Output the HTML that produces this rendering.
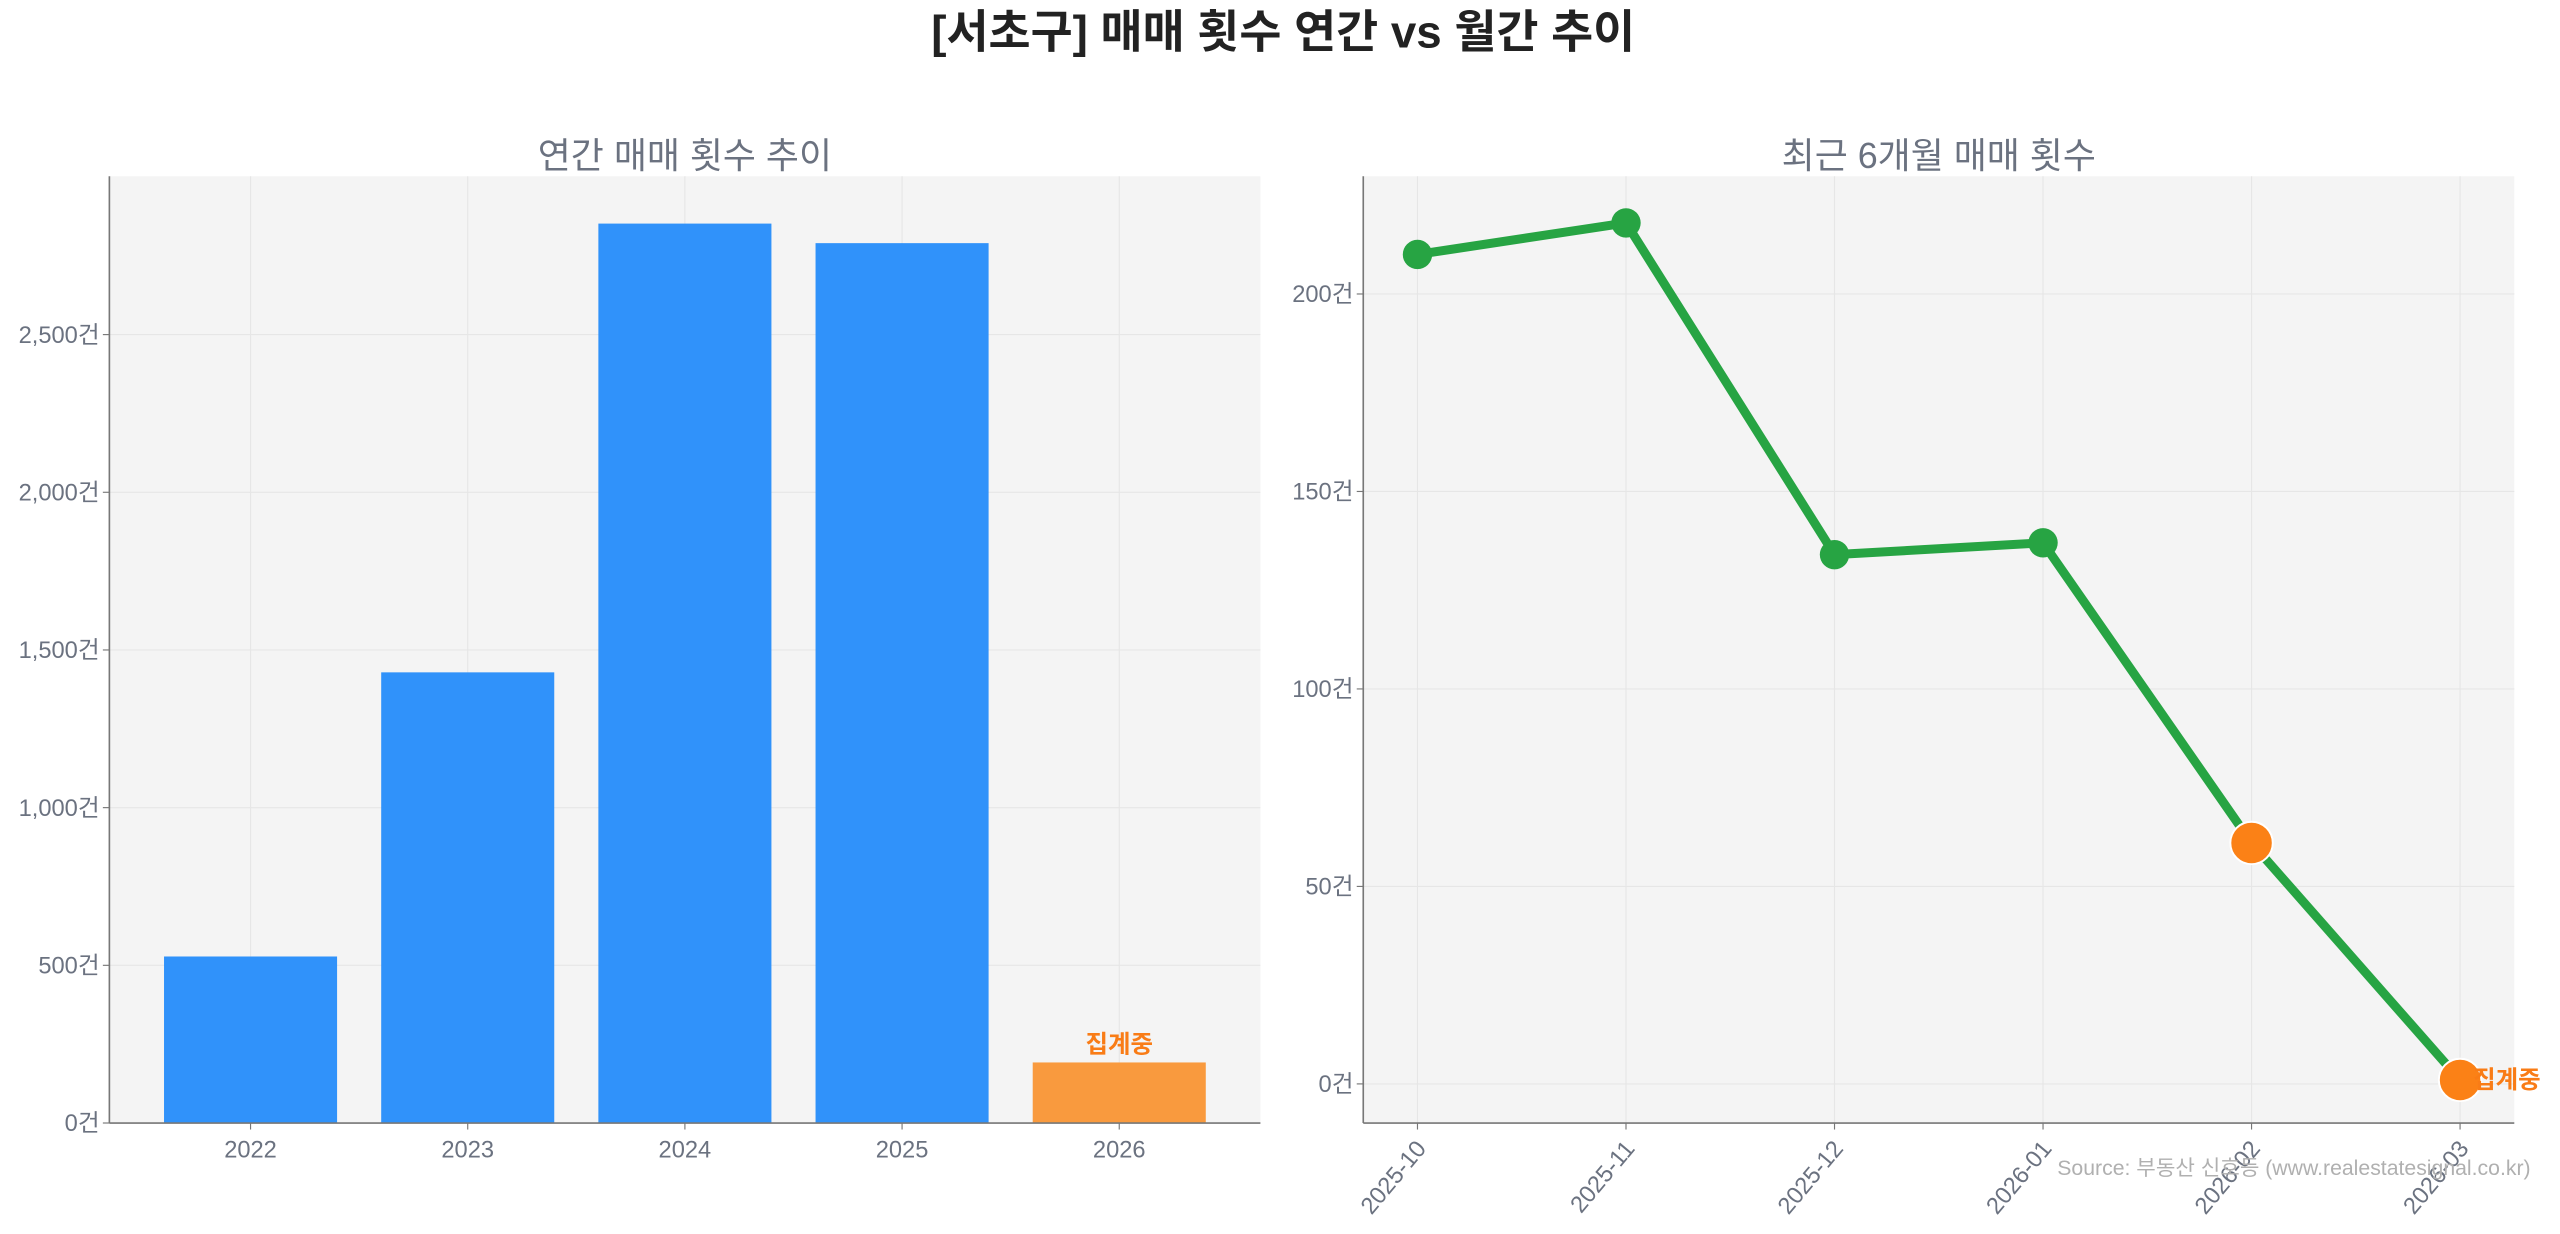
<!DOCTYPE html>
<html><head><meta charset="utf-8"><style>
html,body{margin:0;padding:0;background:#fff;overflow:hidden;font-family:"Liberation Sans","Noto Sans CJK KR",sans-serif}
#chart{display:block;width:100vw;height:100vh}
svg text{font-family:"Liberation Sans","Noto Sans CJK KR",sans-serif}
</style></head><body>
<svg id="chart" viewBox="0 0 1568 756" preserveAspectRatio="none" xmlns="http://www.w3.org/2000/svg">
<text x="786" y="29" text-anchor="middle" font-size="28" font-weight="bold" fill="#222">[서초구] 매매 횟수 연간 vs 월간 추이</text>
<g id="left"></g>
<g id="right"></g>
<text x="1550" y="720" text-anchor="end" font-size="13" fill="#b0b0b0">Source: 부동산 신호등 (www.realestatesignal.co.kr)</text>
</svg>
<script>
const years=["2022","2023","2024","2025","2026"];
const annualCounts=[528,1429,2852,2790,192];
const annualTicks=[0,500,1000,1500,2000,2500];
const months=["2025-10","2025-11","2025-12","2026-01","2026-02","2026-03"];
const monthlyCounts=[210,218,134,137,61,1];
const monthlyTicks=[0,50,100,150,200];
const ns="http://www.w3.org/2000/svg";
function mk(p,t,a){const e=document.createElementNS(ns,t);for(const k in a)e.setAttribute(k,a[k]);p.appendChild(e);return e;}
const fmt=v=>v.toLocaleString('en-US')+'건';
// left
const L=document.getElementById('left');
const lx0=67,lx1=772,ly0=108,ly1=688;
const lxs=i=>lx0+(i+0.65)/5.3*(lx1-lx0);
const lys=v=>ly1-v/3002*(ly1-ly0);
let r=mk(L,'rect',{x:lx0,y:ly0,width:lx1-lx0,height:ly1-ly0,fill:'#f4f4f4'});

annualTicks.forEach(v=>{mk(L,'line',{x1:lx0,x2:lx1,y1:lys(v),y2:lys(v),stroke:'#e6e6e6','stroke-width':0.7});
 mk(L,'line',{x1:lx0-4,x2:lx0,y1:lys(v),y2:lys(v),stroke:'#777','stroke-width':0.7});
 const t=mk(L,'text',{x:lx0-6,y:lys(v)+5,'text-anchor':'end','font-size':14.5,fill:'#6b7280'});t.textContent=fmt(v);
 });
years.forEach((y,i)=>{mk(L,'line',{x1:lxs(i),x2:lxs(i),y1:ly0,y2:ly1,stroke:'#e6e6e6','stroke-width':0.7});});
years.forEach((y,i)=>{const last=i==years.length-1;
 const b=mk(L,'rect',{x:lxs(i)-53,y:lys(annualCounts[i]),width:106,height:ly1-lys(annualCounts[i]),fill:last?'#f99a3e':'#3092fa'});
 
 mk(L,'line',{x1:lxs(i),x2:lxs(i),y1:ly1,y2:ly1+4,stroke:'#777','stroke-width':0.7});
 const t=mk(L,'text',{x:lxs(i),y:ly1+21,'text-anchor':'middle','font-size':14.5,fill:'#6b7280'});t.textContent=y;
 
 if(last){const a=mk(L,'text',{x:lxs(i),y:lys(annualCounts[i])-6,'text-anchor':'middle','font-size':15,'font-weight':'bold',fill:'#f97c16'});a.textContent='집계중';
 }
});
mk(L,'line',{x1:lx0,x2:lx0,y1:ly0,y2:ly1,stroke:'#777','stroke-width':1});
mk(L,'line',{x1:lx0,x2:lx1,y1:ly1,y2:ly1,stroke:'#777','stroke-width':1});
let st=mk(L,'text',{x:(lx0+lx1)/2,y:103,'text-anchor':'middle','font-size':22,fill:'#6b7280'});st.textContent='연간 매매 횟수 추이';

// right
const R=document.getElementById('right');
const rx0=835,rx1=1540,ry0=108,ry1=688;
const rxs=i=>rx0+(i+0.26)/5.52*(rx1-rx0);
const rys=v=>ry1-(v+9.9)/239.7*(ry1-ry0);
r=mk(R,'rect',{x:rx0,y:ry0,width:rx1-rx0,height:ry1-ry0,fill:'#f4f4f4'});

monthlyTicks.forEach(v=>{mk(R,'line',{x1:rx0,x2:rx1,y1:rys(v),y2:rys(v),stroke:'#e6e6e6','stroke-width':0.7});
 mk(R,'line',{x1:rx0-4,x2:rx0,y1:rys(v),y2:rys(v),stroke:'#777','stroke-width':0.7});
 const t=mk(R,'text',{x:rx0-6,y:rys(v)+5,'text-anchor':'end','font-size':14.5,fill:'#6b7280'});t.textContent=fmt(v);
 });
months.forEach((m,i)=>{mk(R,'line',{x1:rxs(i),x2:rxs(i),y1:ry0,y2:ry1,stroke:'#e6e6e6','stroke-width':0.7});
 mk(R,'line',{x1:rxs(i),x2:rxs(i),y1:ry1,y2:ry1+4,stroke:'#777','stroke-width':0.7});
 const t=mk(R,'text',{x:rxs(i)+6,y:ry1+16,'text-anchor':'end','font-size':14.5,fill:'#6b7280',transform:`rotate(-50 ${rxs(i)+6} ${ry1+16})`});t.textContent=m;
 });
const pl=mk(R,'polyline',{points:monthlyCounts.map((v,i)=>rxs(i)+','+rys(v)).join(' '),fill:'none',stroke:'#27a443','stroke-width':5.5,'stroke-linejoin':'round'});

monthlyCounts.forEach((v,i)=>{const pend=i>=4;
 const c=mk(R,'circle',{cx:rxs(i),cy:rys(v),r:pend?13:9,fill:pend?'#fb8116':'#27a443',stroke:'#fff','stroke-width':pend?1.2:0});
 });
const li=monthlyCounts.length-1;
let pt=mk(R,'text',{x:rxs(li)+8,y:rys(monthlyCounts[li])+5,'font-size':15,'font-weight':'bold',fill:'#f97c16'});pt.textContent='집계중';

mk(R,'line',{x1:rx0,x2:rx0,y1:ry0,y2:ry1,stroke:'#777','stroke-width':1});
mk(R,'line',{x1:rx0,x2:rx1,y1:ry1,y2:ry1,stroke:'#777','stroke-width':1});
st=mk(R,'text',{x:(rx0+rx1)/2,y:103,'text-anchor':'middle','font-size':22,fill:'#6b7280'});st.textContent='최근 6개월 매매 횟수';

</script>
</body></html>
